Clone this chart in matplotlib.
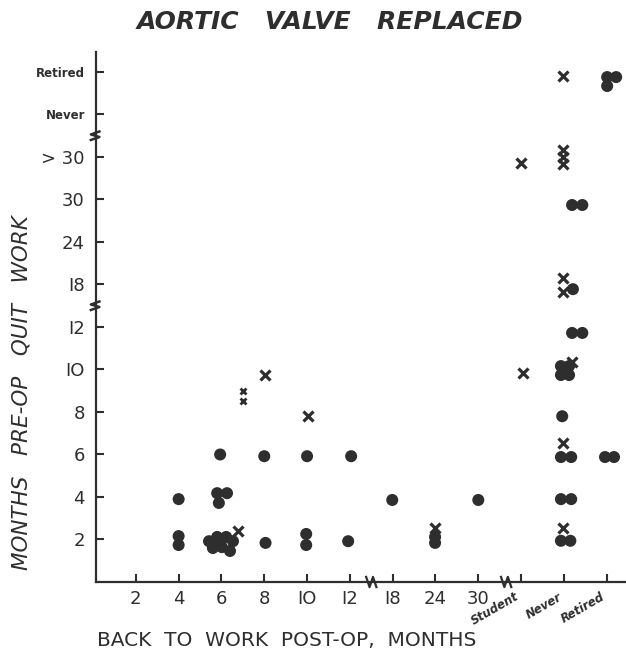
import numpy as np
import matplotlib
matplotlib.use("Agg")
import matplotlib.pyplot as plt

# categorical axes: each tick label sits at position 1, 2, 3 ...
x_labels = ["2", "4", "6", "8", "IO", "I2", "I8", "24", "30", "Student", "Never", "Retired"]
y_labels = ["2", "4", "6", "8", "IO", "I2", "I8", "24", "30", "> 30", "Never", "Retired"]

# patients shown as filled dots (position on the category axes)
dot_x = [2.0, 2.0, 2.0,
         2.97, 2.90, 3.13, 2.94,
         2.71, 2.90, 3.11, 3.27, 2.80, 3.01, 3.20, 2.95,
         4.0, 4.03, 5.0, 4.98, 4.98, 6.03, 5.96,
         6.99, 7.99, 7.99, 9.0,
         10.96, 10.93, 11.17, 10.93, 11.17, 10.93, 11.15,
         10.93, 11.12, 10.93, 11.12, 11.19, 11.43, 11.21, 11.19, 11.43,
         11.96, 12.17, 12.01, 12.22, 12.01]
dot_y = [1.95, 1.08, 0.87,
         3.0, 2.09, 2.09, 1.86,
         0.96, 1.06, 1.06, 0.96, 0.80, 0.82, 0.73, 0.92,
         2.96, 0.92, 2.96, 1.13, 0.87, 2.96, 0.96,
         1.93, 1.06, 0.92, 1.93,
         3.9, 2.94, 2.94, 1.95, 1.95, 0.97, 0.97,
         5.08, 5.08, 4.87, 4.87, 5.86, 5.86, 6.89, 8.87, 8.87,
         2.94, 2.94, 11.88, 11.88, 11.67]

# patients shown as crosses
cross_x = [3.39, 4.02, 5.02, 7.99, 10.05, 10.0,
           10.98, 10.98, 11.19, 10.98, 10.98, 10.98, 10.98, 10.98, 10.98]
cross_y = [1.2, 4.87, 3.9, 1.27, 4.92, 9.86,
           3.27, 1.27, 5.18, 7.15, 6.82, 10.16, 10.0, 9.84, 11.9]
# small stacked crosses near 7 / 9
small_x = [3.5, 3.5]
small_y = [4.49, 4.26]

# axis breaks
x_breaks = [6.5, 9.65]
y_breaks = [6.5, 10.5]

ink = "#2e2e2e"

fig = plt.figure(figsize=(6.26, 6.58), dpi=100)
ax = fig.add_axes([96/626, 76/658, 530/626, 530/658])
ax.set_xlim(0.07, 12.45)
ax.set_ylim(0, 12.47)

ax.scatter(dot_x, dot_y, s=75, color=ink, edgecolors="none", zorder=3)
ax.plot(cross_x, cross_y, "x", color=ink, ms=6.5, mew=2.3, zorder=3)
ax.plot(small_x, small_y, "x", color=ink, ms=4.5, mew=2.0, zorder=3)

for s in ["top", "right"]:
    ax.spines[s].set_visible(False)
for s in ["left", "bottom"]:
    ax.spines[s].set_linewidth(1.6)
    ax.spines[s].set_color(ink)

pos = np.arange(1, 13)
ax.set_xticks(pos)
ax.set_yticks(pos)
ax.tick_params(direction="in", length=6, width=1.5, color=ink)
ax.set_xticklabels(x_labels)
ax.set_yticklabels(y_labels)
for i, t in enumerate(ax.get_xticklabels()):
    if i < 9:
        t.set_fontsize(13)
    else:
        t.set_fontsize(8.5)
        t.set_fontweight("bold")
        t.set_fontstyle("italic")
        t.set_rotation(30)
        t.set_ha("right")
        t.set_va("top")
for i, t in enumerate(ax.get_yticklabels()):
    if i < 10:
        t.set_fontsize(13)
    else:
        t.set_fontsize(8.5)
        t.set_fontweight("bold")
ax.tick_params(axis="x", pad=6, labelcolor=ink)
ax.tick_params(axis="y", pad=8, labelcolor=ink)

# little zig-zag marks where the scales are broken
for b in x_breaks:
    ax.plot([b - 0.12, b - 0.04, b + 0.04, b + 0.12], [0.12, -0.12, 0.12, -0.12],
            color=ink, lw=1.6, clip_on=False, zorder=4)
for b in y_breaks:
    ax.plot([-0.05, 0.15, -0.05, 0.15], [b - 0.1, b - 0.03, b + 0.03, b + 0.1],
            color=ink, lw=1.8, clip_on=False, zorder=4)

fig.text(0.527, 0.966, "AORTIC   VALVE   REPLACED", ha="center", va="center",
         fontsize=18, fontweight="bold", fontstyle="italic", color=ink)
fig.text(0.035, 0.404, "MONTHS   PRE-OP   QUIT   WORK", rotation=90, ha="center",
         va="center", fontsize=15.5, fontstyle="italic", color=ink)
fig.text(0.155, 0.027, "BACK  TO  WORK  POST-OP,  MONTHS", ha="left", va="center",
         fontsize=14.5, color=ink)

fig.savefig("out.png", dpi=100, facecolor="white")
